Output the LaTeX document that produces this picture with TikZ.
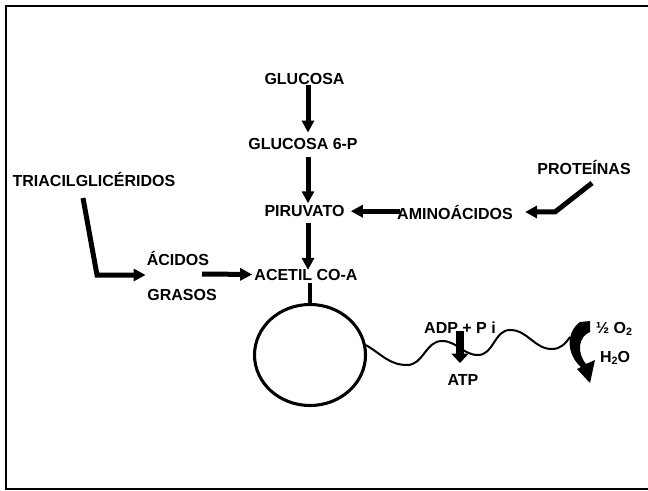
\documentclass[tikz,border=0pt]{standalone}
\usepackage{fontspec}
\setmainfont{Liberation Sans}
\usetikzlibrary{arrows.meta,shapes.geometric}
\begin{document}
\begin{tikzpicture}[x=0.75pt,y=-0.75pt,
  font=\fontsize{12}{14}\selectfont\bfseries,
  lbl/.style={inner sep=0pt, anchor=base},
  arr/.style={line width=3.75pt, line join=miter, -{Triangle[length=9pt,width=9pt]}},
  bigarr/.style={line width=6pt, -{Triangle[length=7pt,width=12.5pt]}},
  wave/.style={line width=1.5pt}]
\useasboundingbox (0,0) rectangle (648,491);
\draw[line width=1.8pt] (648,6) -- (6,6) -- (6,489) -- (648,489);

% labels
\node[lbl] (glu) at (304.5,85) {GLUCOSA};
\node[lbl] (g6p) at (303,150) {GLUCOSA 6-P};
\node[lbl] (piru) at (304.5,216.7) {PIRUVATO};
\node[lbl] (acetil) at (306,280) {ACETIL CO-A};
\node[lbl] (tri) at (94,186.7) {TRIACILGLICÉRIDOS};
\node[lbl] (acidos) at (178,265) {ÁCIDOS};
\node[lbl] (grasos) at (182,300) {GRASOS};
\node[lbl] (prot) at (584,175) {PROTEÍNAS};
\node[lbl] (amino) at (455,220) {AMINOÁCIDOS};
\node[lbl] (adp) at (460,333) {ADP + P i};
\node[lbl] (atp) at (463,385) {ATP};
\node[lbl] (o2) at (614,333) {½ O\raisebox{-0.25ex}{\fontsize{8}{9}\selectfont 2}};
\node[lbl] (h2o) at (615,362.7) {H\raisebox{-0.25ex}{\fontsize{8}{9}\selectfont 2}O};

% helper coordinates
\coordinate (col) at (308,0);
\coordinate (p1) at (592,183);
\coordinate (p2) at (555,212);
\coordinate (t1) at (83,198);
\coordinate (t2) at (97,275);
\coordinate (a1) at (202,274);

% vertical chain
\draw[arr, shorten >=4.5pt] (glu.south -| col) -- (g6p.north -| col);
\draw[arr, shorten <=5pt, shorten >=1.5pt] (g6p.south -| col) -- (piru.north -| col);
\draw[arr, shorten <=4.5pt, shorten >=-1pt] (piru.south -| col) -- (acetil.north -| col);

% side inputs
\draw[arr, shorten <=-2pt, shorten >=4.5pt] (amino.west |- piru.east) -- (piru.east);
\draw[arr, shorten >=9pt] (p1) -- (p2) -- (p2 -| amino.east);
\draw[arr, shorten >=0.75pt] (t1) -- (t2) -- (t2 -| acidos.west);
\draw[arr, shorten >=1.5pt] (a1) -- (acetil.west);

% mitochondrion
\node[ellipse, draw, line width=2.3pt, minimum width=83.25pt, minimum height=75.75pt, inner sep=0pt] (mito) at (310,355) {};
\draw[line width=2.5pt, shorten <=2pt] (acetil.south -| mito.north) -- (mito.north);

% electron chain wave
\draw[wave] (mito.10) to[out=-30,in=180] (407,365) to[out=0,in=180] (442,341)
  to[out=0,in=180] (478,355) to[out=0,in=180] (510,330)
  to[out=0,in=180] (552,349) to[out=0,in=235] (570,337);

% ADP -> ATP
\draw[bigarr, shorten <=-1.5pt, shorten >=8pt] (adp.south) -- (adp.south |- atp.north);

% curved arrow for O2 -> H2O
\fill (580,322) -- (590,321) -- (590,332) .. controls (579,336) and (576,352) .. (586,364)
  -- (595,360) -- (590,383) -- (577,369) -- (581,367)
  .. controls (567,355) and (565,333) .. (580,322) -- cycle;
\end{tikzpicture}
\end{document}
